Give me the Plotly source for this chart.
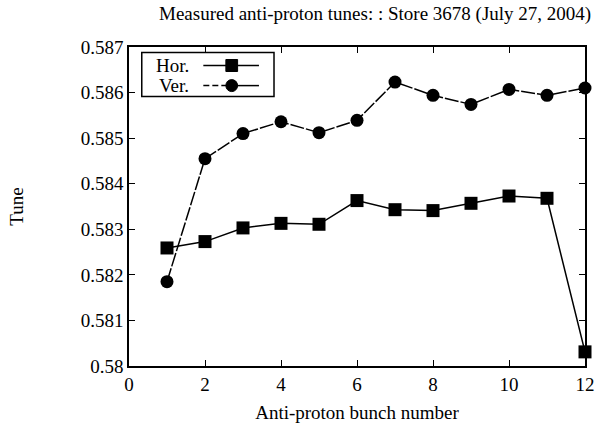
import plotly.graph_objects as go

bunch = [1, 2, 3, 4, 5, 6, 7, 8, 9, 10, 11, 12]
hor_tune = [0.58259, 0.58273, 0.58303, 0.58313, 0.58311, 0.58363,
            0.58343, 0.58341, 0.58357, 0.58373, 0.58368, 0.58031]
ver_tune = [0.58185, 0.58455, 0.58510, 0.58536, 0.58512, 0.58539,
            0.58623, 0.58594, 0.58574, 0.58607, 0.58594, 0.58610]
x_ticks = [0, 2, 4, 6, 8, 10, 12]
y_ticks = [0.580, 0.581, 0.582, 0.583, 0.584, 0.585, 0.586, 0.587]
y_tick_text = ["0.58", "0.581", "0.582", "0.583", "0.584", "0.585", "0.586", "0.587"]

FONT = "Liberation Serif"
fig = go.Figure()
fig.add_trace(go.Scatter(x=bunch, y=hor_tune, mode="lines+markers", name="Hor.",
                         line=dict(color="black", width=1.5),
                         marker=dict(symbol="square", size=13, color="black"),
                         cliponaxis=False))
fig.add_trace(go.Scatter(x=bunch, y=ver_tune, mode="lines+markers", name="Ver.",
                         line=dict(color="black", width=1.5, dash="14px,2px"),
                         marker=dict(symbol="circle", size=13, color="black"),
                         cliponaxis=False))

axis_common = dict(showline=True, linecolor="black", linewidth=1.5, mirror="ticks",
                   ticks="inside", ticklen=6, tickwidth=1.2, tickcolor="black",
                   showgrid=False, zeroline=False,
                   tickfont=dict(family=FONT, size=19, color="black"))
fig.update_xaxes(range=[0, 12], tickvals=x_ticks,
                 title=dict(text="Anti-proton bunch number", font=dict(family=FONT, size=19, color="black"), standoff=12),
                 **axis_common)
fig.update_yaxes(range=[0.580, 0.587], tickvals=y_ticks, ticktext=y_tick_text,
                 title=dict(text="Tune", font=dict(family=FONT, size=19, color="black"), standoff=52),
                 **axis_common)

# custom legend (text left of symbol)
shapes = [dict(type="rect", xref="paper", yref="paper", x0=0.028, x1=0.318, y0=0.845, y1=0.983,
               line=dict(color="black", width=1.5), fillcolor="white")]
rows = [(0.942, "Hor.", "square", None), (0.879, "Ver.", "circle", "dash")]
annotations = []
for yy, label, sym, dash in rows:
    annotations.append(dict(xref="paper", yref="paper", x=0.135, y=yy, text=label, showarrow=False,
                            xanchor="right", yanchor="middle",
                            font=dict(family=FONT, size=19, color="black")))
    if dash:
        shapes.append(dict(type="line", xref="paper", yref="paper", x0=0.163, x1=0.225, y0=yy, y1=yy,
                           line=dict(color="black", width=1.5, dash="6px,3px")))
        shapes.append(dict(type="line", xref="paper", yref="paper", x0=0.225, x1=0.285, y0=yy, y1=yy,
                           line=dict(color="black", width=1.5)))
    else:
        shapes.append(dict(type="line", xref="paper", yref="paper", x0=0.163, x1=0.285, y0=yy, y1=yy,
                           line=dict(color="black", width=1.5)))
    dx, dy = 6 / 466, 6 / 319
    shapes.append(dict(type="rect" if sym == "square" else "circle", xref="paper", yref="paper",
                       x0=0.2253 - dx, x1=0.2253 + dx, y0=yy - dy, y1=yy + dy,
                       line=dict(color="black", width=1), fillcolor="black"))

annotations.append(dict(xref="paper", yref="paper", x=0.539, y=1.0, yshift=33,
                        text="Measured anti-proton tunes: : Store 3678 (July 27, 2004)",
                        showarrow=False, xanchor="center", yanchor="middle",
                        font=dict(family=FONT, size=19, color="black")))

fig.update_layout(width=607, height=433, margin=dict(l=129, r=12, t=47, b=67),
                  paper_bgcolor="white", plot_bgcolor="white", showlegend=False,
                  shapes=shapes, annotations=annotations)
fig.write_html("out.html")
